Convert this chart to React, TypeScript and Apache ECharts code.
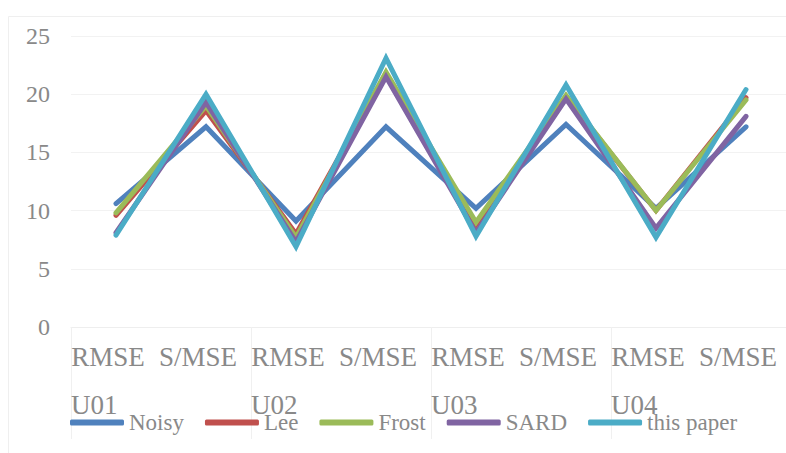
import React, { useEffect, useRef } from "react";
import * as echarts from "echarts";

const metrics = ["RMSE", "S/MSE", "RMSE", "S/MSE", "RMSE", "S/MSE", "RMSE", "S/MSE"];
const groups = ["U01", "U02", "U03", "U04", ""];
const yTicks = { min: 0, max: 25, interval: 5 };

const seriesNames = ["Noisy", "Lee", "Frost", "SARD", "this paper"];
const noisy = [10.6, 17.2, 9.1, 17.2, 10.2, 17.4, 10.2, 17.2];
const lee = [9.6, 18.6, 8.0, 21.8, 8.8, 19.8, 10.0, 19.7];
const frost = [9.8, 19.0, 7.7, 21.9, 9.0, 19.9, 10.0, 19.5];
const sard = [8.1, 19.3, 7.3, 21.5, 8.1, 19.6, 8.5, 18.1];
const thisPaper = [7.9, 20.0, 6.9, 23.1, 7.8, 20.8, 7.7, 20.4];
const seriesData = [noisy, lee, frost, sard, thisPaper];
const colors = ["#4F81BD", "#C0504D", "#9BBB59", "#8064A2", "#4BACC6"];

const FONT = "'Liberation Serif', 'Times New Roman', Times, serif";
const TEXT = "#898989";

export default function App() {
  const ref = useRef<HTMLDivElement>(null);
  useEffect(() => {
    if (!ref.current) return;
    const chart = echarts.init(ref.current, undefined, { renderer: "svg" });
    chart.setOption({
      animation: false,
      backgroundColor: "#ffffff",
      color: colors,
      textStyle: { fontFamily: FONT },
      graphic: [
        {
          type: "rect",
          shape: { x: 8.5, y: 16.5, width: 820, height: 460 },
          style: { fill: "none", stroke: "#efefef", lineWidth: 1 },
          z: -1,
        },
      ],
      grid: {
        left: 71,
        width: 720,
        top: 36,
        bottom: 126,
        containLabel: false,
        outerBoundsMode: "none",
      },
      legend: {
        left: 65,
        top: 406,
        icon: "roundRect",
        itemWidth: 54,
        itemHeight: 6,
        itemGap: 21,
        textStyle: { fontFamily: FONT, fontSize: 23, color: TEXT },
        data: seriesNames,
      },
      xAxis: [
        {
          type: "category",
          data: metrics,
          boundaryGap: true,
          axisLine: { show: true, lineStyle: { color: "#eeeeee", width: 1 } },
          axisTick: { show: false },
          axisLabel: {
            interval: 0,
            margin: 16,
            fontFamily: FONT,
            fontSize: 27,
            lineHeight: 27,
            padding: [0, 16, 0, 0],
            color: TEXT,
          },
        },
        {
          type: "category",
          data: groups,
          boundaryGap: false,
          position: "bottom",
          axisLine: { show: false },
          axisTick: { show: true, length: 112, lineStyle: { color: "#f0f0f0", width: 1 } },
          axisLabel: {
            interval: 0,
            margin: 64,
            align: "left",
            fontFamily: FONT,
            fontSize: 27,
            lineHeight: 27,
            color: TEXT,
          },
        },
      ],
      yAxis: {
        type: "value",
        min: yTicks.min,
        max: yTicks.max,
        interval: yTicks.interval,
        axisLine: { show: false },
        axisTick: { show: false },
        splitLine: { show: true, lineStyle: { color: "#f2f2f2", width: 1 } },
        axisLabel: { margin: 21, fontFamily: FONT, fontSize: 24, color: TEXT },
      },
      series: seriesNames.map((name, i) => ({
        name,
        type: "line",
        xAxisIndex: 0,
        data: seriesData[i],
        symbol: "none",
        lineStyle: { width: 5, color: colors[i], cap: "round", join: "miter" },
        itemStyle: { color: colors[i] },
      })),
    });
    return () => chart.dispose();
  }, []);
  return (
    <div
      ref={ref}
      style={{ position: "fixed", left: 0, top: 0, width: 786, height: 453 }}
    />
  );
}
